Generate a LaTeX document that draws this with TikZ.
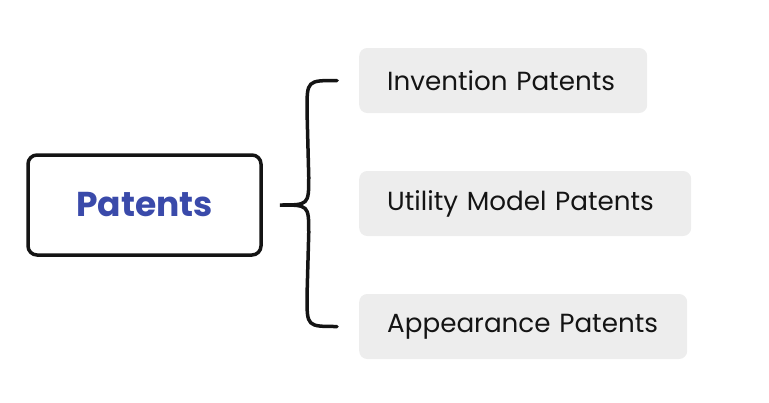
\documentclass[tikz,border=0pt]{standalone}
\usepackage{fontspec}
\setmainfont{Poppins}
\usetikzlibrary{calc}
\definecolor{titleblue}{RGB}{58,74,170}
\definecolor{itemgrey}{RGB}{237,237,237}
\definecolor{inkblack}{RGB}{20,20,20}
\begin{document}
\begin{tikzpicture}[x=1pt, y=-1pt,
    rootbox/.style={draw=inkblack, line width=3.5pt, rounded corners=9pt, minimum width=233pt, minimum height=100pt, font=\fontsize{34.5}{38}\selectfont\bfseries, text=titleblue},
    itembox/.style={fill=itemgrey, rounded corners=8pt, anchor=west, inner xsep=28pt, minimum height=65pt, align=left, font=\fontsize{26.2}{30}\selectfont, text=inkblack},
    brace/.style={draw=inkblack, line width=3.5pt, line cap=round}]
    \useasboundingbox (0,0) rectangle (769,402);
    \node[rootbox] (root) at (144.5,205) {Patents};
    \node[itembox, text width=232pt] (inv) at (359,80.5) {Invention Patents};
    \node[itembox, text width=276pt] (util) at (359,203.5) {Utility Model Patents};
    \node[itembox, text width=272pt] (app) at (359,326.5) {Appearance Patents};
    % curly brace from the root to the three kinds
    \coordinate (tip) at ([xshift=17pt]root.east);
    \coordinate (top) at ([xshift=-22pt]inv.west);
    \coordinate (bot) at ([xshift=-22pt]app.west);
    \draw[brace] (top) .. controls ($(top)+(-30,0)$) and ($(top)+(-30,0)$) .. ($(top)+(-30,30)$)
        -- ($(tip)+(29,-28)$) .. controls ($(tip)+(29,0)$) and ($(tip)+(29,0)$) .. (tip)
        .. controls ($(tip)+(29,0)$) and ($(tip)+(29,0)$) .. ($(tip)+(29,28)$)
        -- ($(bot)+(-30,-30)$) .. controls ($(bot)+(-30,0)$) and ($(bot)+(-30,0)$) .. (bot);
\end{tikzpicture}
\end{document}
